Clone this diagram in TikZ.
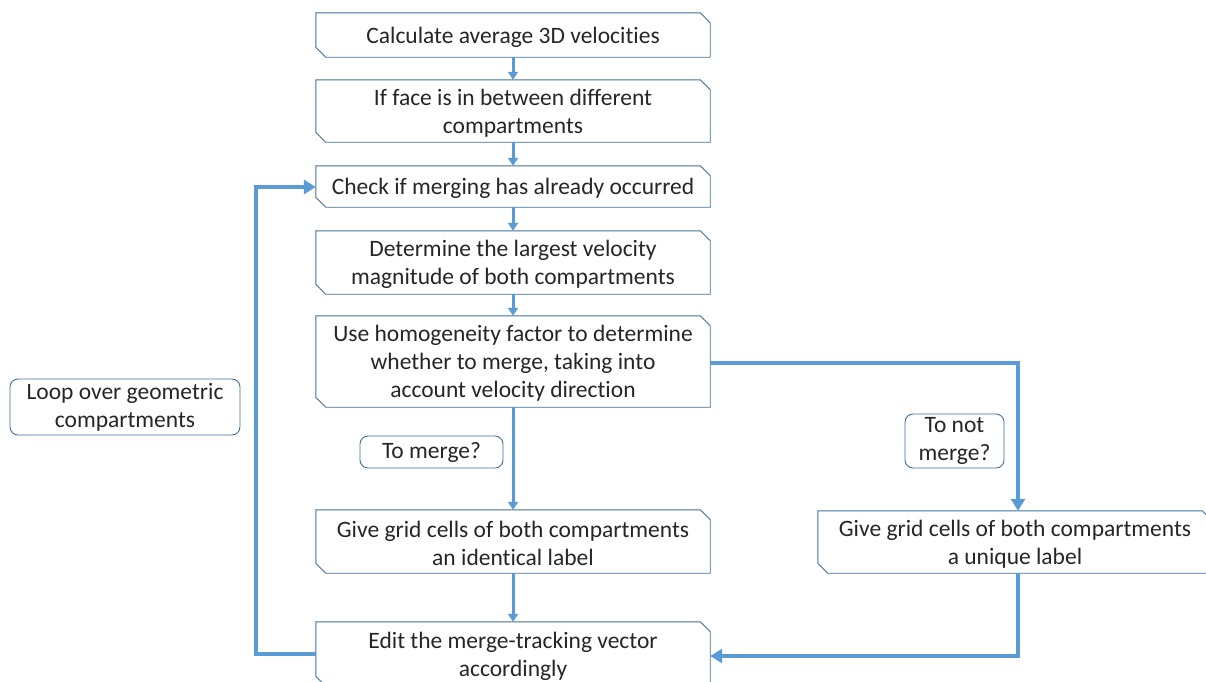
\documentclass[tikz,border=0pt]{standalone}
\usepackage{fontspec}
\setmainfont[Ligatures=NoCommon]{Carlito}
\usetikzlibrary{arrows.meta}
\definecolor{flowblue}{HTML}{5B9BD5}
\definecolor{edgeblue}{HTML}{41719C}
\definecolor{inkgray}{HTML}{262626}
\tikzset{
  x=1pt, y=-1pt,
  stepbox/.style={rectangle, draw=none, text=inkgray, align=center,
    inner sep=0pt, minimum width=394pt, font=\fontsize{23.5}{28}\selectfont},
  steptext/.style={stepbox, yshift=-2pt},
  outline/.style={draw=edgeblue, line width=0.9pt, fill=white},
  notebox/.style={rectangle, rounded corners=8pt, draw=edgeblue, line width=0.9pt,
    fill=white, text=inkgray, align=center, inner sep=0pt,
    font=\fontsize{23.5}{28}\selectfont},
  thinflow/.style={draw=flowblue, line width=3pt, -{Triangle[width=10pt,length=8pt]}},
  thickflow/.style={draw=flowblue, line width=4.5pt, -{Triangle[width=14pt,length=12pt]}},
}
% outline of a step box with its top-right and bottom-left corners cut off
\newcommand\cutframe[1]{%
  \draw[outline] (#1.north west) -- ([xshift=-10pt]#1.north east)
    -- ([yshift=-10pt]#1.north east) -- (#1.south east)
    -- ([xshift=10pt]#1.south west) -- ([yshift=10pt]#1.south west) -- cycle;}
\begin{document}
\begin{tikzpicture}
\useasboundingbox (0,0) rectangle (1206,681);
\fill[white] (0,0) rectangle (1206,681);

% main column of steps
\node[stepbox, minimum height=44pt] (avg) at (513,35) {};
\node[stepbox, minimum height=62pt] (face) at (513,111) {};
\node[stepbox, minimum height=41pt] (check) at (513,186.5) {};
\node[stepbox, minimum height=63pt] (largest) at (513,262.5) {};
\node[stepbox, minimum height=91pt] (homog) at (513,361.5) {};
\node[stepbox, minimum height=63pt] (ident) at (513,541.5) {};
\node[stepbox, minimum height=64pt] (edit) at (513,654) {};
\node[stepbox, minimum height=62pt] (uniq) at (1015,542) {};
\foreach \n in {avg,face,check,largest,homog,ident,edit,uniq} {\cutframe{\n}}

\node[steptext] (avgT) at (avg) {Calculate average 3D velocities};
\node[steptext] (faceT) at (face) {If face is in between different\\compartments};
\node[steptext] (checkT) at (check) {Check if merging has already occurred};
\node[steptext] (largestT) at (largest) {Determine the largest velocity\\magnitude of both compartments};
\node[steptext] (homogT) at (homog) {Use homogeneity factor to determine\\whether to merge, taking into\\account velocity direction};
\node[steptext] (identT) at (ident) {Give grid cells of both compartments\\an identical label};
\node[steptext] (editT) at (edit) {Edit the merge-tracking vector\\accordingly};
\node[steptext] (uniqT) at (uniq) {Give grid cells of both compartments\\a unique label};

% side notes
\node[notebox, minimum width=230pt, minimum height=56pt] (loop) at (125,407) {Loop over geometric\\compartments};
\node[notebox, minimum width=143pt, minimum height=32pt] (yes) at (431.5,452) {To merge?};
\node[notebox, minimum width=99pt, minimum height=54pt] (no) at (954.5,441) {To not\\merge?};

% straight flow
\draw[thinflow] (avg.south -| 513,0) -- (face.north -| 513,0);
\draw[thinflow] (face.south -| 513,0) -- (check.north -| 513,0);
\draw[thinflow] (check.south -| 513,0) -- (largest.north -| 513,0);
\draw[thinflow] (largest.south -| 513,0) -- (homog.north -| 513,0);
\draw[thinflow] (homog.south -| 513,0) -- (ident.north -| 513,0);
\draw[thinflow] (ident.south -| 513,0) -- (edit.north -| 513,0);

% branch to the unique label
\coordinate (rturn) at (1018,363);
\draw[thickflow] (homog.east |- rturn) -- (rturn) -- (rturn |- uniq.north);
\coordinate (bturn) at (1018,656);
\draw[thickflow] (uniq.south -| bturn) -- (bturn) -- (edit.east |- bturn);

% loop back to the merge check
\coordinate (lbot) at (256,654);
\coordinate (ltop) at (256,187);
\draw[thickflow] (edit.west |- lbot) -- (lbot) -- (ltop) -- (check.west |- ltop);
\end{tikzpicture}
\end{document}
